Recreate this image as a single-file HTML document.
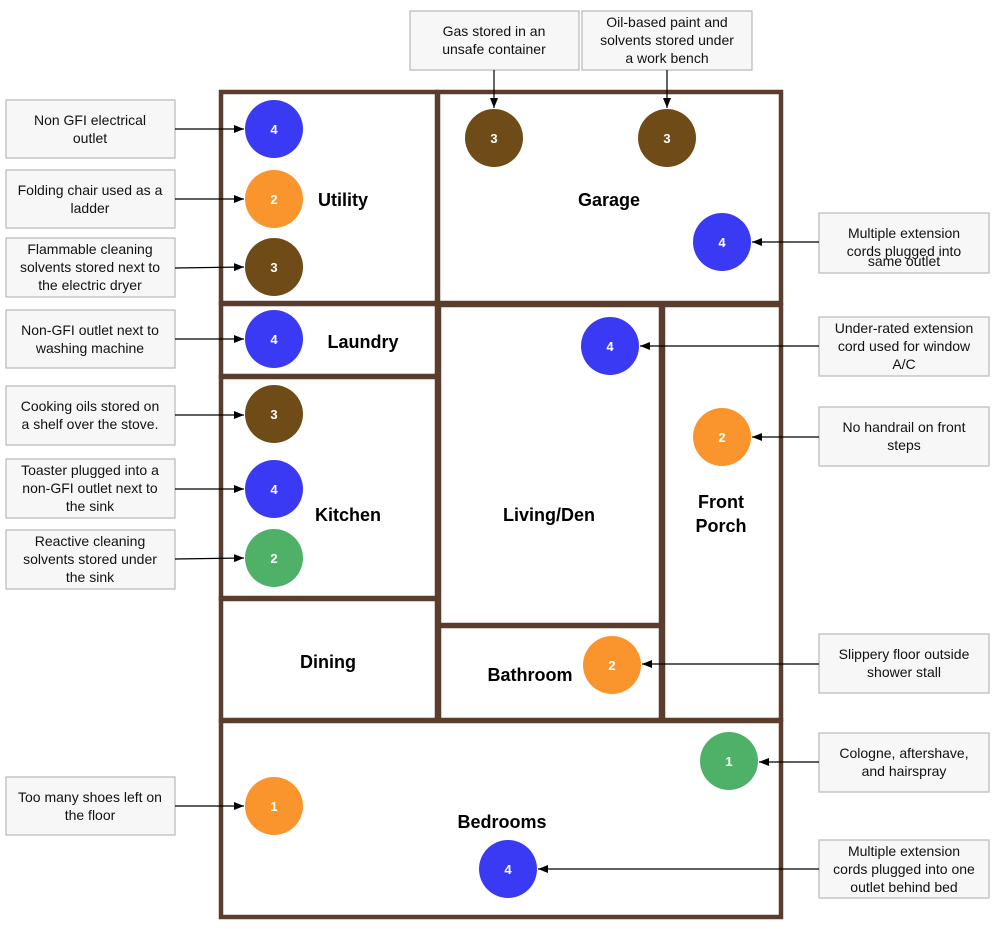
<!DOCTYPE html>
<html><head><meta charset="utf-8"><style>
html,body{margin:0;padding:0;background:#fff;}
svg{display:block;font-family:"Liberation Sans",Arial,sans-serif;}
.b{fill:#f7f7f7;stroke:#b8b8b8;stroke-width:1.2;}
.t{font-size:14px;fill:#111;text-anchor:middle;}
.r{fill:#fff;stroke:#5a3d2c;stroke-width:4.5;}
.l{font-size:18px;font-weight:bold;text-anchor:middle;fill:#000;}
.n{font-size:13px;font-weight:bold;fill:#fff;text-anchor:middle;}
.a{stroke:#000;stroke-width:1.2;fill:none;marker-end:url(#ar);}
</style></head><body>
<svg width="1000" height="929" viewBox="0 0 1000 929" xmlns="http://www.w3.org/2000/svg">
<defs><marker id="ar" markerWidth="10" markerHeight="8" refX="10" refY="4" orient="auto" markerUnits="userSpaceOnUse"><path d="M0,0 L10,4 L0,8 Z" fill="#000"/></marker></defs>
<rect class="r" x="221" y="92" width="216" height="211"/>
<rect class="r" x="438" y="92" width="343" height="211"/>
<rect class="r" x="221" y="304" width="216" height="72"/>
<rect class="r" x="221" y="377" width="216" height="221"/>
<rect class="r" x="221" y="599" width="216" height="121"/>
<rect class="r" x="439" y="305" width="222" height="320"/>
<rect class="r" x="439" y="626" width="222" height="94"/>
<rect class="r" x="663" y="305" width="118" height="415"/>
<rect class="r" x="221" y="721" width="560" height="196"/>
<text class="l" x="343" y="206">Utility</text>
<text class="l" x="609" y="206">Garage</text>
<text class="l" x="363" y="348">Laundry</text>
<text class="l" x="348" y="521">Kitchen</text>
<text class="l" x="549" y="521">Living/Den</text>
<text class="l" x="721" y="508">Front</text>
<text class="l" x="721" y="532">Porch</text>
<text class="l" x="328" y="668">Dining</text>
<text class="l" x="530" y="681">Bathroom</text>
<text class="l" x="502" y="828">Bedrooms</text>
<g>
<circle cx="274" cy="129" r="29" fill="#3a3af5"/><text class="n" x="274" y="134">4</text>
<circle cx="274" cy="199" r="29" fill="#fa952d"/><text class="n" x="274" y="204">2</text>
<circle cx="274" cy="267" r="29" fill="#6f4c17"/><text class="n" x="274" y="272">3</text>
<circle cx="494" cy="138" r="29" fill="#6f4c17"/><text class="n" x="494" y="143">3</text>
<circle cx="667" cy="138" r="29" fill="#6f4c17"/><text class="n" x="667" y="143">3</text>
<circle cx="722" cy="242" r="29" fill="#3a3af5"/><text class="n" x="722" y="247">4</text>
<circle cx="274" cy="339" r="29" fill="#3a3af5"/><text class="n" x="274" y="344">4</text>
<circle cx="274" cy="414" r="29" fill="#6f4c17"/><text class="n" x="274" y="419">3</text>
<circle cx="274" cy="489" r="29" fill="#3a3af5"/><text class="n" x="274" y="494">4</text>
<circle cx="274" cy="558" r="29" fill="#4fb068"/><text class="n" x="274" y="563">2</text>
<circle cx="610" cy="346" r="29" fill="#3a3af5"/><text class="n" x="610" y="351">4</text>
<circle cx="722" cy="437" r="29" fill="#fa952d"/><text class="n" x="722" y="442">2</text>
<circle cx="612" cy="665" r="29" fill="#fa952d"/><text class="n" x="612" y="670">2</text>
<circle cx="729" cy="761" r="29" fill="#4fb068"/><text class="n" x="729" y="766">1</text>
<circle cx="274" cy="806" r="29" fill="#fa952d"/><text class="n" x="274" y="811">1</text>
<circle cx="508" cy="869" r="29" fill="#3a3af5"/><text class="n" x="508" y="874">4</text>
</g>
<rect class="b" x="6" y="100" width="169" height="58"/><text class="t" x="90" y="125">Non GFI electrical</text><text class="t" x="90" y="143">outlet</text>
<path class="a" d="M175,129 H244"/>
<rect class="b" x="6" y="170" width="169" height="58"/><text class="t" x="90" y="195">Folding chair used as a</text><text class="t" x="90" y="213">ladder</text>
<path class="a" d="M175,199 H244"/>
<rect class="b" x="6" y="238" width="169" height="59"/><text class="t" x="90" y="254">Flammable cleaning</text><text class="t" x="90" y="272">solvents stored next to</text><text class="t" x="90" y="290">the electric dryer</text>
<path class="a" d="M175,268 L244,267"/>
<rect class="b" x="6" y="310" width="169" height="58"/><text class="t" x="90" y="335">Non-GFI outlet next to</text><text class="t" x="90" y="353">washing machine</text>
<path class="a" d="M175,339 H244"/>
<rect class="b" x="6" y="386" width="169" height="59"/><text class="t" x="90" y="411">Cooking oils stored on</text><text class="t" x="90" y="429">a shelf over the stove.</text>
<path class="a" d="M175,415 H244"/>
<rect class="b" x="6" y="459" width="169" height="59"/><text class="t" x="90" y="475">Toaster plugged into a</text><text class="t" x="90" y="493">non-GFI outlet next to</text><text class="t" x="90" y="511">the sink</text>
<path class="a" d="M175,489 H244"/>
<rect class="b" x="6" y="530" width="169" height="59"/><text class="t" x="90" y="546">Reactive cleaning</text><text class="t" x="90" y="564">solvents stored under</text><text class="t" x="90" y="582">the sink</text>
<path class="a" d="M175,559 L244,558"/>
<rect class="b" x="6" y="777" width="169" height="58"/><text class="t" x="90" y="802">Too many shoes left on</text><text class="t" x="90" y="820">the floor</text>
<path class="a" d="M175,806 H244"/>
<rect class="b" x="410" y="11" width="169" height="59"/><text class="t" x="494" y="36">Gas stored in an</text><text class="t" x="494" y="54">unsafe container</text>
<path class="a" d="M494,70 V108"/>
<rect class="b" x="582" y="11" width="170" height="59"/><text class="t" x="667" y="27">Oil-based paint and</text><text class="t" x="667" y="45">solvents stored under</text><text class="t" x="667" y="63">a work bench</text>
<path class="a" d="M667,70 V108"/>
<rect class="b" x="819" y="213" width="170" height="60"/><text class="t" x="904" y="238">Multiple extension</text><text class="t" x="904" y="256">cords plugged into</text><text class="t" x="904" y="266" dy="0" style="display:none"></text>
<text class="t" x="904" y="274" style="display:none"></text>
<text class="t" x="904" y="266"></text>
<path class="a" d="M819,242 H752"/>
<rect class="b" x="819" y="317" width="170" height="59"/><text class="t" x="904" y="333">Under-rated extension</text><text class="t" x="904" y="351">cord used for window</text><text class="t" x="904" y="369">A/C</text>
<path class="a" d="M819,346 H640"/>
<rect class="b" x="819" y="407" width="170" height="59"/><text class="t" x="904" y="432">No handrail on front</text><text class="t" x="904" y="450">steps</text>
<path class="a" d="M819,437 H752"/>
<rect class="b" x="819" y="634" width="170" height="59"/><text class="t" x="904" y="659">Slippery floor outside</text><text class="t" x="904" y="677">shower stall</text>
<path class="a" d="M819,664 H642"/>
<rect class="b" x="819" y="733" width="170" height="59"/><text class="t" x="904" y="758">Cologne, aftershave,</text><text class="t" x="904" y="776">and hairspray</text>
<path class="a" d="M819,762 H759"/>
<rect class="b" x="819" y="840" width="170" height="58"/><text class="t" x="904" y="856">Multiple extension</text><text class="t" x="904" y="874">cords plugged into one</text><text class="t" x="904" y="892">outlet behind bed</text>
<path class="a" d="M819,869 H538"/>
<rect x="820" y="214" width="168" height="58" fill="#f7f7f7"/>
<text class="t" x="904" y="238">Multiple extension</text><text class="t" x="904" y="256">cords plugged into</text><text class="t" x="904" y="274" dy="-8">same outlet</text>
</svg>
</body></html>
